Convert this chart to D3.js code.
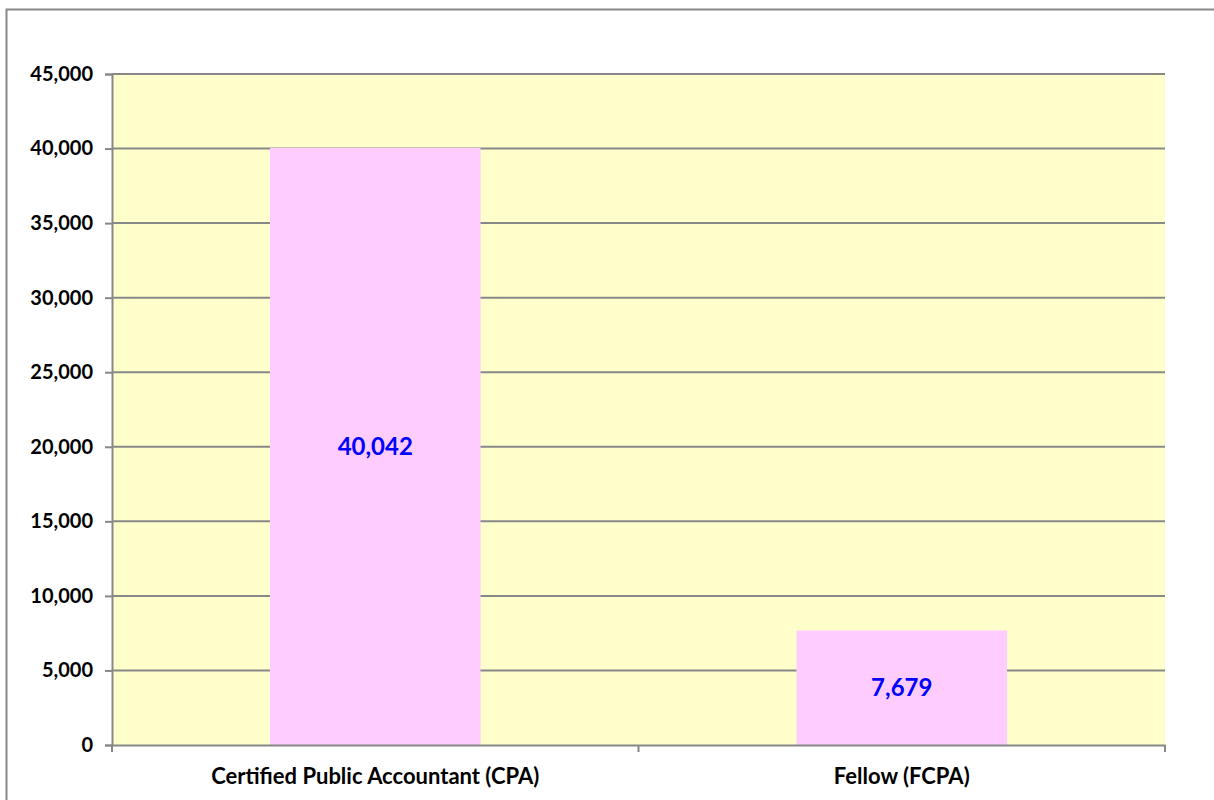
<!DOCTYPE html>
<html>
<head>
<meta charset="utf-8">
<script src="https://cdn.jsdelivr.net/npm/d3@7"></script>
<style>
  body { margin: 0; background: #fff; overflow: hidden; }
  text { font-family: Lato, "Open Sans", sans-serif; font-weight: bold; }
</style>
</head>
<body>
<div id="chart"></div>
<script>
const categories = ["Certified Public Accountant (CPA)", "Fellow (FCPA)"];
const values = [40042, 7679];
const yTicks = [0, 5000, 10000, 15000, 20000, 25000, 30000, 35000, 40000, 45000];

const width = 1214, height = 800;
const plotLeft = 112, plotRight = 1165, plotTop = 74, plotBottom = 745;

const svg = d3.select("#chart").append("svg")
  .attr("width", width)
  .attr("height", height)
  .style("display", "block");

// outer frame
svg.append("rect")
  .attr("x", 6.5).attr("y", 9.5)
  .attr("width", width + 10).attr("height", height + 10)
  .attr("fill", "none")
  .attr("stroke", "#888")
  .attr("stroke-width", 2);

const x = d3.scaleBand()
  .domain(categories)
  .range([plotLeft, plotRight]);

const y = d3.scaleLinear()
  .domain([0, 45000])
  .range([plotBottom, plotTop]);

// plot background
svg.append("rect")
  .attr("x", plotLeft).attr("y", plotTop)
  .attr("width", plotRight - plotLeft).attr("height", plotBottom - plotTop)
  .attr("fill", "#FFFFCC");

// gridlines
svg.append("g")
  .selectAll("line")
  .data(yTicks.filter(d => d > 0))
  .enter().append("line")
  .attr("x1", plotLeft).attr("x2", plotRight)
  .attr("y1", d => y(d)).attr("y2", d => y(d))
  .attr("stroke", "#888")
  .attr("stroke-width", 2);

// bars
const bw = x.bandwidth() * 0.4;
svg.append("g")
  .selectAll("rect")
  .data(values)
  .enter().append("rect")
  .attr("x", (d, i) => x(categories[i]) + (x.bandwidth() - bw) / 2)
  .attr("y", d => y(d))
  .attr("width", bw)
  .attr("height", d => y(0) - y(d))
  .attr("fill", "#FFCCFF");

// y axis
const yAxis = svg.append("g")
  .attr("transform", `translate(${plotLeft},0)`)
  .call(d3.axisLeft(y).tickValues(yTicks).tickSize(7).tickPadding(12).tickFormat(d3.format(",")));
yAxis.select(".domain").attr("stroke", "#888").attr("stroke-width", 2);
yAxis.selectAll(".tick line").attr("stroke", "#888").attr("stroke-width", 2);
yAxis.selectAll(".tick text").attr("fill", "#000").style("font-size", "20px");

// x axis
const xAxis = svg.append("g")
  .attr("transform", `translate(0,${plotBottom})`)
  .call(d3.axisBottom(x).tickSize(0).tickPadding(23));
xAxis.select(".domain").attr("stroke", "#888").attr("stroke-width", 2);
xAxis.selectAll(".tick text").attr("fill", "#000").style("font-size", "22px");

// category separator ticks
svg.append("g")
  .selectAll("line")
  .data([plotLeft, x(categories[1]), plotRight])
  .enter().append("line")
  .attr("x1", d => d).attr("x2", d => d)
  .attr("y1", plotBottom).attr("y2", plotBottom + 7)
  .attr("stroke", "#888")
  .attr("stroke-width", 2);

// value labels
svg.append("g")
  .selectAll("text")
  .data(values)
  .enter().append("text")
  .attr("x", (d, i) => x(categories[i]) + x.bandwidth() / 2)
  .attr("y", d => (y(d) + y(0)) / 2)
  .attr("dy", "0.35em")
  .attr("text-anchor", "middle")
  .attr("fill", "#0000FF")
  .style("font-size", "24px")
  .text(d => d3.format(",")(d));
</script>
</body>
</html>
